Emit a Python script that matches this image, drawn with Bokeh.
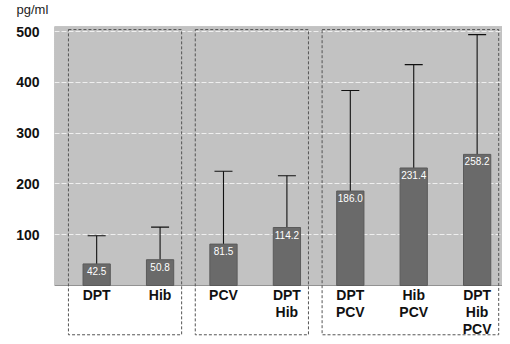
from bokeh.plotting import figure
from bokeh.layouts import column
from bokeh.models import ColumnDataSource, Range1d, Whisker, TeeHead, FixedTicker
from bokeh.core.properties import value
from bokeh.embed import file_html
from bokeh.resources import INLINE

# ---- data ----
categories = ["DPT", "Hib", "PCV", "DPT\nHib", "DPT\nPCV", "Hib\nPCV", "DPT\nHib\nPCV"]
means = [42.5, 50.8, 81.5, 114.2, 186.0, 231.4, 258.2]
upper_err = [98, 115, 225, 216, 384, 435, 494]
group_sizes = [2, 2, 3]
y_ticks = [100, 200, 300, 400, 500]
y_unit = "pg/ml"

FONT = "Liberation Sans"
xs = list(range(len(categories)))

W = 502
HEAD_H = 20
H = 316
BL, BT = 54, 6

# ---- small header strip holding the unit text ----
head = figure(width=W, height=HEAD_H, output_backend="svg", toolbar_location=None,
              x_range=Range1d(0, W), y_range=Range1d(0, HEAD_H),
              min_border=0, min_border_left=0, min_border_right=0,
              min_border_top=0, min_border_bottom=0)
head.axis.visible = False
head.grid.visible = False
head.outline_line_color = None
head.text(x=[16], y=[HEAD_H / 2 + 1], text=[y_unit], text_align="left", text_baseline="middle",
          text_font=value(FONT), text_font_size="13px", text_color="#222222")

# ---- main chart ----
xr = Range1d(-0.665, 6.40)
yr = Range1d(-100.4, 510)
p = figure(width=W, height=H, output_backend="svg", toolbar_location=None,
           x_range=xr, y_range=yr,
           min_border_left=BL, min_border_right=0, min_border_bottom=0, min_border_top=BT)
p.outline_line_color = None
p.xaxis.visible = False
p.xgrid.visible = False

# keep each plot's frame where its own borders put it (no cross-plot frame alignment)
for fig in (head, p):
    if "frame_align" in fig.properties():
        fig.frame_align = False

yax = p.yaxis[0]
yax.ticker = FixedTicker(ticks=y_ticks)
yax.axis_line_color = None
yax.major_tick_line_color = None
yax.minor_tick_line_color = None
yax.major_label_text_font = FONT
yax.major_label_text_font_style = "bold"
yax.major_label_text_font_size = "14px"
yax.major_label_text_color = "#111111"
yax.major_label_standoff = 9

p.ygrid.ticker = FixedTicker(ticks=y_ticks)
p.ygrid.grid_line_color = "#efefef"
p.ygrid.grid_line_dash = "5 2"
p.ygrid.grid_line_width = 1

# gray plotting area
bg = p.quad(left=[xr.start], right=[xr.end], bottom=[0], top=[yr.end],
            fill_color="#c2c2c2", line_color="#444444", line_dash="1 1", line_width=1)
bg.level = "image"

# group boxes (dashed)
lefts, rights = [], []
start = 0
for g in group_sizes:
    lefts.append(start - 0.445)
    rights.append(start + g - 1 + 0.34)
    start += g
p.quad(left=lefts, right=rights, bottom=[-97] * len(group_sizes), top=[504] * len(group_sizes),
       fill_color=None, line_color="#555555", line_dash="3 2", line_width=1)

src = ColumnDataSource(dict(x=xs, mean=means, upper=upper_err,
                            lab=["%.1f" % m for m in means], cat=categories))

wh = Whisker(source=src, base="x", lower="mean", upper="upper",
             upper_head=TeeHead(size=18, line_color="#111111", line_width=1.1),
             lower_head=None, line_color="#111111", line_width=1.1)
p.add_layout(wh)

p.vbar(x="x", top="mean", bottom=0, width=0.43, source=src,
       fill_color="#6a6a6a", line_color="#5a5a5a")

p.text(x="x", y="mean", text="lab", source=src, text_align="center", text_baseline="top",
       y_offset=3, text_color="white", text_font=value(FONT), text_font_size="10px")

p.text(x="x", y=-3, text="cat", source=src, text_align="center", text_baseline="top",
       text_color="#111111", text_font=value(FONT), text_font_style="bold",
       text_font_size="14px", text_line_height=1.05)

layout = column(head, p, spacing=0)
open("out.html", "w").write(file_html(layout, INLINE))
